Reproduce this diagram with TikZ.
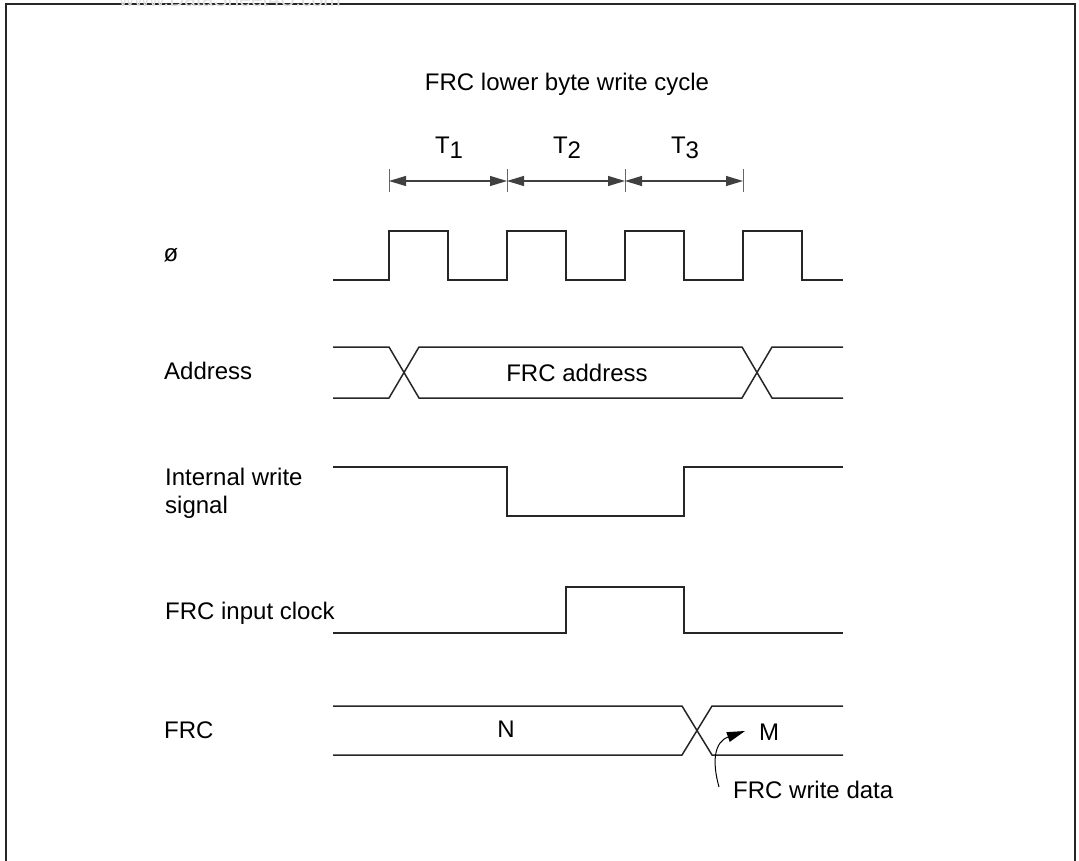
\documentclass[tikz,border=0pt]{standalone}
\usepackage{fontspec}
\setmainfont{Liberation Sans}
\usetikzlibrary{arrows.meta}
\begin{document}
\begin{tikzpicture}[x=1pt,y=-1pt,
  wave/.style={line width=1.5pt, black!85, line join=miter},
  lbl/.style={font=\fontsize{24}{29}\selectfont, inner sep=0pt},
  dimline/.style={line width=1.1pt, black!75, {Triangle[length=17pt,width=10pt]}-{Triangle[length=17pt,width=10pt]}},
  ticks/.style={line width=1pt, black!60},
  callout/.style={line width=1pt, black, -{Triangle[length=18pt,width=10pt]}},
  frame/.style={line width=2pt, black!85}]
\useasboundingbox (0,0) rectangle (1079,861);
% frame
\draw[frame] (6,875) -- (6,4) -- (1075,4) -- (1075,875);
% watermark
\node[lbl, font=\fontsize{21}{24}\selectfont, text=black!12, anchor=base] (wm) at (230,7) {www.DataSheet4U.com};
% title
\node[lbl] (title) at (567,84) {FRC lower byte write cycle};
% T labels
\node[lbl, anchor=base] (t1) at (449,154) {T\raisebox{-5pt}{1}};
\node[lbl, anchor=base] (t2) at (567,154) {T\raisebox{-5pt}{2}};
\node[lbl, anchor=base] (t3) at (685,154) {T\raisebox{-5pt}{3}};
% ticks
\foreach \x/\n in {389/a,507/b,625/c,743/d} {
  \coordinate (tk\n) at (\x,181);
  \draw[ticks] (\x,169) -- (\x,192);
}
\draw[dimline] (tka) -- (tkb);
\draw[dimline] (tkb) -- (tkc);
\draw[dimline] (tkc) -- (tkd);
% signal labels
\node[lbl] (phi) at (171,255) {ø};
\node[lbl, anchor=west] (addr) at (164,371) {Address};
\node[lbl, anchor=base west, align=left] (iw1) at (165,485) {Internal write};
\node[lbl, anchor=base west] (iw2) at (165,513) {signal};
\node[lbl, anchor=base west] (ic) at (165,619) {FRC input clock};
\node[lbl, anchor=west] (frc) at (164,730) {FRC};
% clock
\draw[wave] (333,280) -- (389,280) -- (389,231) -- (448,231) -- (448,280)
  -- (507,280) -- (507,231) -- (566,231) -- (566,280)
  -- (625,280) -- (625,231) -- (684,231) -- (684,280)
  -- (743,280) -- (743,231) -- (802,231) -- (802,280) -- (843,280);
% address
\draw[wave] (333,347) -- (389,347) -- (419,398) -- (742,398) -- (772,347) -- (843,347);
\draw[wave] (333,398) -- (389,398) -- (419,347) -- (742,347) -- (772,398) -- (843,398);
\node[lbl] (faddr) at (577,373) {FRC address};
% internal write
\draw[wave] (333,467) -- (507,467) -- (507,516) -- (684,516) -- (684,467) -- (843,467);
% input clock
\draw[wave] (333,633) -- (566,633) -- (566,587) -- (684,587) -- (684,633) -- (843,633);
% FRC
\draw[wave] (333,706) -- (682,706) -- (712,755) -- (843,755);
\draw[wave] (333,755) -- (682,755) -- (712,706) -- (843,706);
\node[lbl] (n) at (506,729) {N};
\node[lbl] (m) at (769,732) {M};
\node[lbl, anchor=base west] (wd) at (733,798) {FRC write data};
\coordinate (cs) at (719,787);
\coordinate (ce) at (745,731);
\draw[callout] (cs) .. controls (712,762) and (714,742) .. (ce);
\end{tikzpicture}
\end{document}
